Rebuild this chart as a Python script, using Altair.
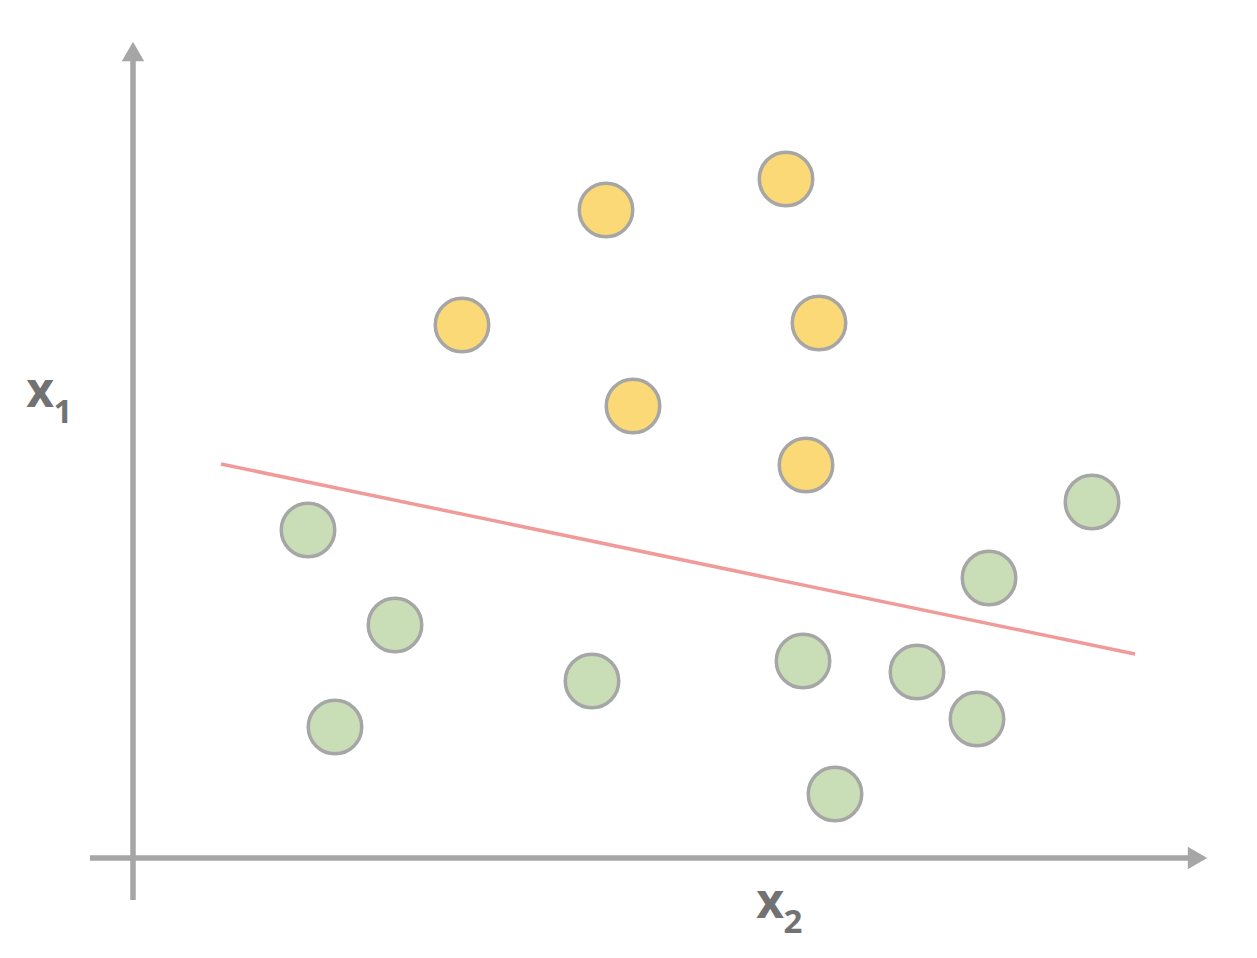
import altair as alt
import pandas as pd

# Data points (x2 horizontal, x1 vertical), arbitrary units
yellow_x = [4.73, 6.53, 3.29, 6.86, 5.00, 6.73]
yellow_y = [6.48, 6.79, 5.33, 5.35, 4.52, 3.93]
green_x = [1.75, 2.62, 2.02, 4.59, 6.70, 7.02, 7.84, 8.44, 8.56, 9.59]
green_y = [3.28, 2.33, 1.31, 1.77, 1.97, 0.64, 1.86, 1.39, 2.80, 3.56]

# Separating line endpoints
line_x = [0.88, 10.02]
line_y = [3.94, 2.04]

# Axis extents
xaxis_x = [-0.43, 10.60]
yaxis_y = [-0.42, 8.05]

XD = [-1.25, 11.16]
YD = [-0.92, 8.50]
xs = alt.Scale(domain=XD, nice=False, zero=False)
ys = alt.Scale(domain=YD, nice=False, zero=False)

AX = "#A6A6A6"
TXT = "#727272"

pts = pd.DataFrame({
    "x": yellow_x + green_x,
    "y": yellow_y + green_y,
    "cls": ["A"] * len(yellow_x) + ["B"] * len(green_x),
})

xa = pd.DataFrame({"x": [xaxis_x[0]], "x2": [xaxis_x[1]], "y": [0.0]})
ya = pd.DataFrame({"y": [yaxis_y[0]], "y2": [yaxis_y[1]], "x": [0.0]})

xrule = alt.Chart(xa).mark_rule(color=AX, strokeWidth=5.5).encode(
    x=alt.X("x:Q", scale=xs, axis=None), x2="x2:Q", y=alt.Y("y:Q", scale=ys, axis=None))
yrule = alt.Chart(ya).mark_rule(color=AX, strokeWidth=5.5).encode(
    y=alt.Y("y:Q", scale=ys, axis=None), y2="y2:Q", x=alt.X("x:Q", scale=xs, axis=None))

arr_r = pd.DataFrame({"x": [10.645], "y": [0.0]})
arr_u = pd.DataFrame({"x": [0.0], "y": [8.065]})
arrow_r = alt.Chart(arr_r).mark_point(shape="triangle-right", filled=True, color=AX, size=500, opacity=1).encode(
    x=alt.X("x:Q", scale=xs, axis=None), y=alt.Y("y:Q", scale=ys, axis=None))
arrow_u = alt.Chart(arr_u).mark_point(shape="triangle-up", filled=True, color=AX, size=500, opacity=1).encode(
    x=alt.X("x:Q", scale=xs, axis=None), y=alt.Y("y:Q", scale=ys, axis=None))

ln = pd.DataFrame({"x": line_x, "y": line_y})
sep = alt.Chart(ln).mark_line(color="#F09A9A", strokeWidth=3.5).encode(
    x=alt.X("x:Q", scale=xs, axis=None), y=alt.Y("y:Q", scale=ys, axis=None))

points = alt.Chart(pts).mark_circle(size=2860, opacity=1, stroke="#A6A6A6", strokeWidth=3.5).encode(
    x=alt.X("x:Q", scale=xs, axis=None),
    y=alt.Y("y:Q", scale=ys, axis=None),
    fill=alt.Fill("cls:N", scale=alt.Scale(domain=["A", "B"], range=["#FBD977", "#C9DDB6"]), legend=None),
)

main_lbl = pd.DataFrame({"x": [-0.93, 6.37], "y": [4.51, -0.60], "t": ["x", "x"]})
sub_lbl = pd.DataFrame({"x": [-0.70, 6.60], "y": [4.35, -0.75], "t": ["1", "2"]})
t1 = alt.Chart(main_lbl).mark_text(font="Open Sans", fontWeight="bold", fontSize=48, color=TXT,
                                   align="center", baseline="alphabetic").encode(
    x=alt.X("x:Q", scale=xs, axis=None), y=alt.Y("y:Q", scale=ys, axis=None), text="t:N")
t2 = alt.Chart(sub_lbl).mark_text(font="Open Sans", fontWeight="bold", fontSize=33, color=TXT,
                                  align="center", baseline="alphabetic").encode(
    x=alt.X("x:Q", scale=xs, axis=None), y=alt.Y("y:Q", scale=ys, axis=None), text="t:N")

chart = alt.layer(xrule, yrule, arrow_r, arrow_u, sep, points, t1, t2).properties(
    width=1241, height=942, padding=0, autosize=alt.AutoSizeParams(type="none"),
    background="white",
).configure_view(stroke=None)

chart.save("out.html", embed_options={"renderer": "svg", "actions": False})
